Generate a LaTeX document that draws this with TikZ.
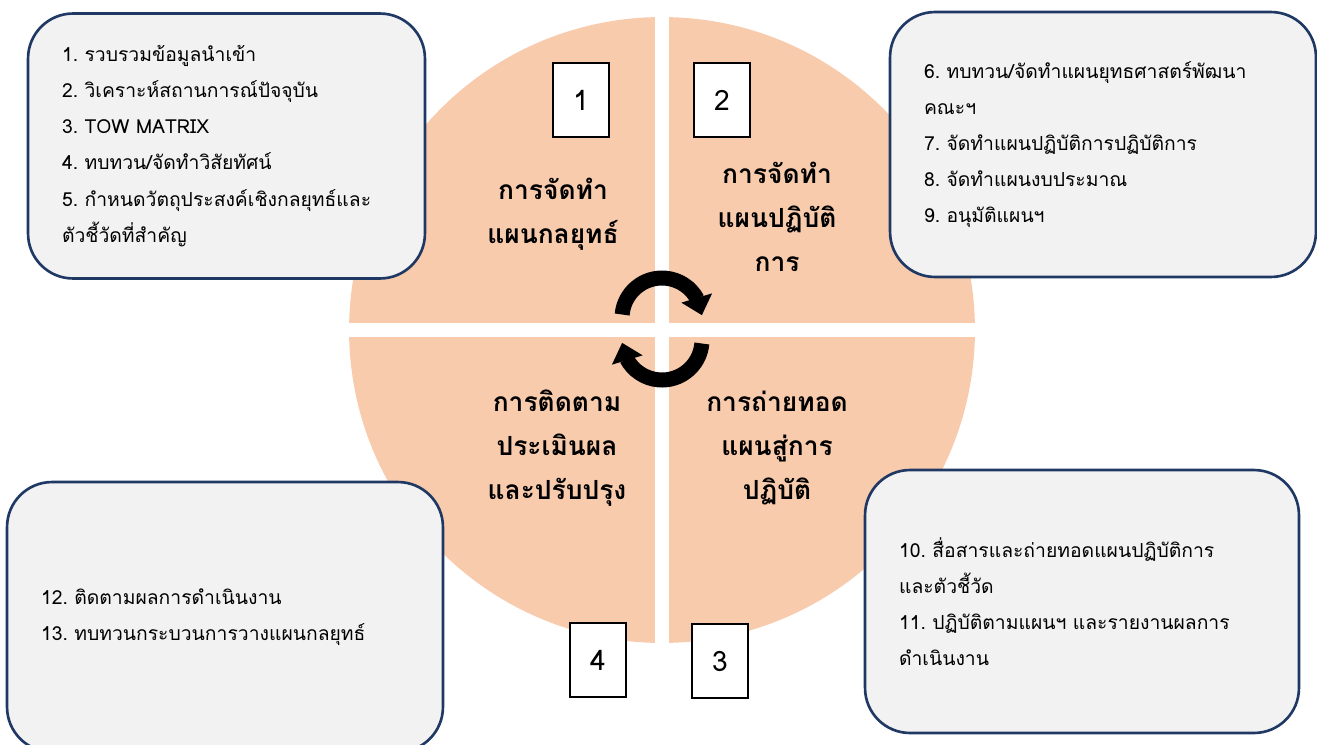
\documentclass[tikz,border=0pt]{standalone}
\usepackage{fontspec}
\newfontfamily\thaifont[Script=Thai,WordSpace=0.6]{Loma}
\usetikzlibrary{arrows.meta,bending}
\definecolor{peach}{HTML}{F8CBAD}
\definecolor{boxfill}{HTML}{F2F2F2}
\definecolor{boxline}{HTML}{1F3864}
\frenchspacing
\tikzstyle{stepbox} = [
  draw=boxline,
  line width=1.5pt,
  fill=boxfill,
  rounded corners=0.9cm,
  align=left,
  inner xsep=0.68cm,
  font=\thaifont\fontsize{11}{20.6}\selectfont,
]
\tikzstyle{numbox} = [
  draw=black,
  fill=white,
  line width=0.8pt,
  minimum width=1.12cm,
  minimum height=1.48cm,
  font=\thaifont\fontsize{16}{16}\selectfont,
]
\tikzstyle{phase} = [
  align=center,
  font=\thaifont\bfseries\fontsize{15}{25}\selectfont,
]
\tikzstyle{cycle} = [
  line width=0.3cm,
  -{Triangle[width=0.62cm,length=0.36cm]},
]

\begin{document}
\begin{tikzpicture}[x=0.02cm, y=-0.02cm]
    \useasboundingbox (0,0) rectangle (1317,744);

    \coordinate (O) at (662,330);

    % Wheel
    \fill[peach] (O) circle[radius=6.26cm];
    \fill[white] (655,10) rectangle (669,650);
    \fill[white] (340,323) rectangle (985,337);

    % Quarters
    \node[phase] (q1) at (553,214) {การจัดทำ\\แผนกลยุทธ์};
    \node[phase] (q2) at (777,217) {การจัดทำ\\แผนปฏิบัติ\\การ};
    \node[phase] (q3) at (777,448) {การถ่ายทอด\\แผนสู่การ\\ปฏิบัติ};
    \node[phase] (q4) at (557,448) {การติดตาม\\ประเมินผล\\และปรับปรุง};

    % Cycle arrows
    \coordinate (c1) at (662,318);
    \coordinate (c2) at (662,340);
    \draw[cycle] (c1) ++(185:40) arc (185:356:40);
    \draw[cycle] (c2) ++(5:40) arc (5:176:40);

    % Numbers
    \node[numbox] (n1) at (581,100) {1};
    \node[numbox] (n2) at (722,100) {2};
    \node[numbox] (n3) at (720,661) {3};
    \node[numbox] (n4) at (598,660) {4};

    % Steps
    \node[stepbox, text width=6.58cm, minimum height=5.3cm] (s1) at (226.5,146) {%
      1.~รวบรวมข้อมูลนำเข้า\\
      2.~วิเคราะห์สถานการณ์ปัจจุบัน\\
      3.~TOW MATRIX\\
      4.~ทบทวน/จัดทำวิสัยทัศน์\\
      5.~กำหนดวัตถุประสงค์เชิงกลยุทธ์และ\\
      ตัวชี้วัดที่สำคัญ};
    \node[stepbox, text width=7.16cm, minimum height=5.3cm] (s2) at (1103,144.5) {%
      6.~ทบทวน/จัดทำแผนยุทธศาสตร์พัฒนา\\
      คณะฯ\\
      7.~จัดทำแผนปฏิบัติการปฏิบัติการ\\
      8.~จัดทำแผนงบประมาณ\\
      9.~อนุมัติแผนฯ};
    \node[stepbox, text width=7.32cm, minimum height=5.26cm] (s3) at (1082,601.5) {%
      10.~สื่อสารและถ่ายทอดแผนปฏิบัติการ\\
      และตัวชี้วัด\\
      11.~ปฏิบัติตามแผนฯ~และรายงานผลการ\\
      ดำเนินงาน};
    \node[stepbox, text width=7.36cm, minimum height=5.4cm] (s4) at (225,617) {%
      12.~ติดตามผลการดำเนินงาน\\
      13.~ทบทวนกระบวนการวางแผนกลยุทธ์};
\end{tikzpicture}
\end{document}
